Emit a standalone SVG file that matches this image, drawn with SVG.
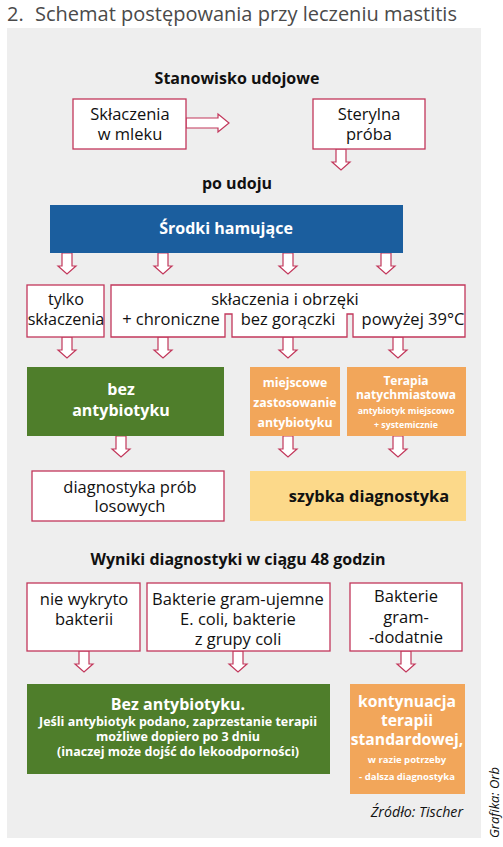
<svg xmlns="http://www.w3.org/2000/svg" xmlns:xlink="http://www.w3.org/1999/xlink" width="503" height="847" viewBox="0 0 503 847">
<style>
text{font-family:"Open Sans","Noto Sans",sans-serif;}
.t{font-size:16.5px;fill:#111;text-anchor:middle;}
.h{font-size:16px;font-weight:bold;fill:#111;text-anchor:middle;}
.w{font-weight:bold;fill:#fff;text-anchor:middle;}
.box{fill:#fff;stroke:#c2375b;stroke-width:1.3;}
.arr{fill:#fff;stroke:#c2375b;stroke-width:1.2;stroke-linejoin:miter;}
</style>
<defs>
<path id="dn" d="M-5,0 V13 H-9 L0,21 L9,13 H5 V0 Z"/>
</defs>
<rect width="503" height="847" fill="#fff"/>
<text x="7" y="21" style="font-size:20px;fill:#4a4a4a;">2.</text>
<text x="35" y="21" style="font-size:20px;fill:#4a4a4a;">Schemat postępowania przy leczeniu mastitis</text>
<rect x="7" y="28" width="474" height="810" fill="#eeeeee"/>

<text class="h" x="237" y="84">Stanowisko udojowe</text>
<text class="h" x="237" y="189">po udoju</text>
<text class="h" x="238" y="565">Wyniki diagnostyki w ciągu 48 godzin</text>

<g id="connectors">
<path class="arr" d="M186,118 H218 V114 L229,123 L218,132 V128 H186 Z"/>
<use xlink:href="#dn" class="arr" x="341" y="149"/>
<use xlink:href="#dn" class="arr" x="67" y="253"/>
<use xlink:href="#dn" class="arr" x="163" y="253"/>
<use xlink:href="#dn" class="arr" x="288" y="253"/>
<use xlink:href="#dn" class="arr" x="386" y="253"/>
<use xlink:href="#dn" class="arr" x="67" y="337"/>
<use xlink:href="#dn" class="arr" x="163" y="337"/>
<use xlink:href="#dn" class="arr" x="288" y="337"/>
<use xlink:href="#dn" class="arr" x="398" y="337"/>
<use xlink:href="#dn" class="arr" x="121" y="436"/>
<use xlink:href="#dn" class="arr" x="288" y="436"/>
<use xlink:href="#dn" class="arr" x="398" y="436"/>
<use xlink:href="#dn" class="arr" x="84" y="651"/>
<use xlink:href="#dn" class="arr" x="238" y="651"/>
<use xlink:href="#dn" class="arr" x="406" y="651"/>
</g>

<g id="sklaczenia">
<rect class="box" x="73" y="99" width="113" height="50"/>
<text class="t" x="130" y="120">Skłaczenia</text>
<text class="t" x="130" y="140">w mleku</text>
</g>
<g id="sterylna">
<rect class="box" x="313" y="99" width="112" height="50"/>
<text class="t" x="369" y="120">Sterylna</text>
<text class="t" x="369" y="140">próba</text>
</g>
<g id="srodki">
<rect x="50" y="205" width="353" height="48" fill="#1b5e9e"/>
<text class="w" x="226" y="234" style="font-size:16px;">Środki hamujące</text>
</g>
<g id="tylko">
<rect class="box" x="27" y="285" width="77" height="52"/>
<text class="t" x="66" y="305" style="font-size:16.2px;">tylko</text>
<text class="t" x="66" y="325" style="font-size:16.2px;">skłaczenia</text>
</g>
<g id="obrzeki">
<path class="box" d="M111,285 H465 V337 H353 V314 H347 V337 H232 V314 H225 V337 H111 Z"/>
<text class="t" x="285" y="305">skłaczenia i obrzęki</text>
<text class="t" x="171" y="325">+ chroniczne</text>
<text class="t" x="288" y="325">bez gorączki</text>
<text class="t" x="413" y="325">powyżej 39°C</text>
</g>
<g id="bez1">
<rect x="27" y="367" width="197" height="69" fill="#4f7e2b"/>
<text class="w" x="121" y="395" style="font-size:16px;">bez</text>
<text class="w" x="121" y="416" style="font-size:16px;">antybiotyku</text>
</g>
<g id="miejscowe">
<rect x="250" y="367" width="90" height="69" fill="#f2a65a"/>
<text class="w" x="295" y="387" style="font-size:12.3px;">miejscowe</text>
<text class="w" x="295" y="407" style="font-size:12.3px;">zastosowanie</text>
<text class="w" x="295" y="427" style="font-size:12.3px;">antybiotyku</text>
</g>
<g id="terapia">
<rect x="347" y="367" width="119" height="69" fill="#f2a65a"/>
<text class="w" x="406" y="385" style="font-size:12px;">Terapia</text>
<text class="w" x="406" y="399" style="font-size:12px;">natychmiastowa</text>
<text class="w" x="406" y="414" style="font-size:8.8px;">antybiotyk miejscowo</text>
<text class="w" x="406" y="428" style="font-size:8.8px;">+ systemicznie</text>
</g>
<g id="diagnostyka">
<rect class="box" x="32" y="471" width="192" height="50"/>
<text class="t" x="130" y="493">diagnostyka prób</text>
<text class="t" x="130" y="512">losowych</text>
</g>
<g id="szybka">
<rect x="250" y="471" width="216" height="50" fill="#fcd98a"/>
<text class="h" x="369" y="502" style="font-size:16.4px;">szybka diagnostyka</text>
</g>
<g id="nie">
<rect class="box" x="27" y="583" width="113" height="68"/>
<text class="t" x="84" y="605">nie wykryto</text>
<text class="t" x="84" y="625">bakterii</text>
</g>
<g id="ujemne">
<rect class="box" x="147" y="583" width="183" height="68"/>
<text class="t" x="238" y="605">Bakterie gram-ujemne</text>
<text class="t" x="238" y="625">E. coli, bakterie</text>
<text class="t" x="238" y="645">z grupy coli</text>
</g>
<g id="dodatnie">
<rect class="box" x="350" y="583" width="112" height="68"/>
<text class="t" x="406" y="602">Bakterie</text>
<text class="t" x="406" y="623">gram-</text>
<text class="t" x="406" y="643">-dodatnie</text>
</g>
<g id="bez2">
<rect x="27" y="684" width="303" height="90" fill="#4f7e2b"/>
<text class="w" x="178" y="710" style="font-size:16px;">Bez antybiotyku.</text>
<text class="w" x="178" y="726" style="font-size:12.5px;">Jeśli antybiotyk podano, zaprzestanie terapii</text>
<text class="w" x="178" y="741" style="font-size:12.5px;">możliwe dopiero po 3 dniu</text>
<text class="w" x="178" y="756" style="font-size:12.5px;">(inaczej może dojść do lekoodporności)</text>
</g>
<g id="kontynuacja">
<rect x="350" y="684" width="115" height="110" fill="#f2a65a"/>
<text class="w" x="407" y="707" style="font-size:15.7px;">kontynuacja</text>
<text class="w" x="407" y="726" style="font-size:15.7px;">terapii</text>
<text class="w" x="407" y="745" style="font-size:15.7px;">standardowej,</text>
<text class="w" x="407" y="763" style="font-size:9.5px;">w razie potrzeby</text>
<text class="w" x="407" y="780" style="font-size:9.5px;">- dalsza diagnostyka</text>
</g>
<text x="463" y="817" style="font-size:14.2px;font-style:italic;fill:#111;text-anchor:end;">Źródło: Tischer</text>
<text transform="translate(499,838) rotate(-90)" style="font-size:13px;font-style:italic;fill:#111;">Grafika: Orb</text>
</svg>
